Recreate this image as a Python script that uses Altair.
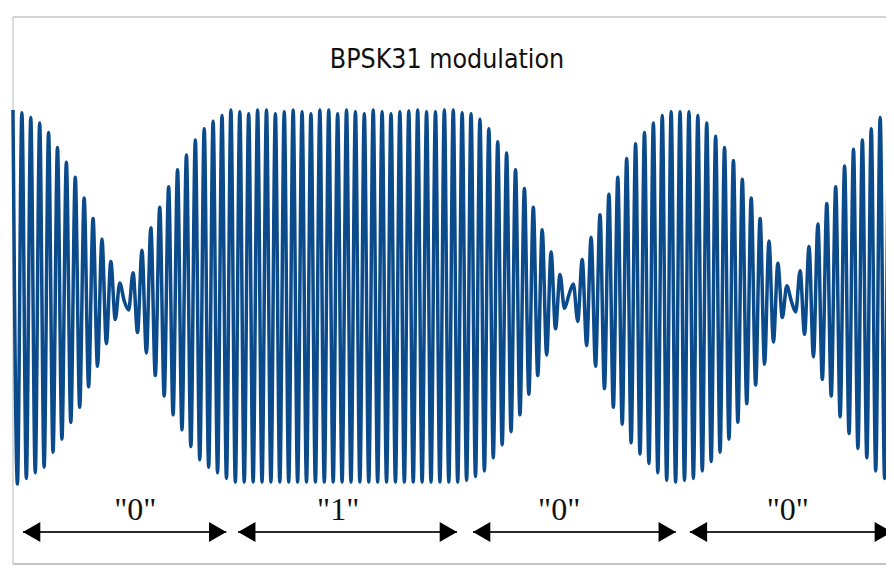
import altair as alt
import pandas as pd

TITLE = "BPSK31 modulation"

# time between successive carrier extrema (25 carrier cycles per 32 ms symbol)
HALF_CYCLE_MS = 0.64

# carrier extremum amplitudes (fraction of full amplitude),
# one list per stretch between phase reversals
AMP_SEG_A = [1.00, 1.00, 0.985, 0.97, 0.96, 0.94, 0.93, 0.91, 0.88, 0.83, 0.80, 0.76, 0.72,
             0.67, 0.64, 0.59, 0.53, 0.48, 0.42, 0.37, 0.31, 0.25, 0.19, 0.12, 0.075, 0.02]
AMP_SEG_B = [0.07, 0.13, 0.19, 0.25, 0.30, 0.37, 0.42, 0.48, 0.53, 0.59, 0.63, 0.68, 0.71,
             0.76, 0.80, 0.84, 0.87, 0.90, 0.91, 0.94, 0.94, 0.97, 0.97, 1.00,
             0.99, 0.99, 0.99, 0.98, 0.99, 1.00, 0.99, 1.00, 0.99, 0.98, 0.99, 0.99, 0.99,
             1.00, 0.99, 0.99, 0.99, 0.98, 0.99, 1.00, 0.99, 1.00, 0.99, 0.98, 0.99, 1.00,
             0.99, 0.99, 0.99, 0.98, 0.99, 1.00, 0.99, 0.99, 0.99, 0.98, 0.99, 0.99, 0.99,
             0.995, 0.99, 1.00, 0.99, 0.99, 0.99, 0.99, 0.99, 1.00, 0.99, 1.00, 0.99,
             0.985, 0.98, 0.98, 0.96, 0.95, 0.93, 0.90, 0.86, 0.83, 0.79, 0.77, 0.72, 0.68,
             0.63, 0.58, 0.52, 0.48, 0.42, 0.36, 0.31, 0.24, 0.17, 0.12, 0.06, 0.01]
AMP_SEG_C = [0.07, 0.13, 0.20, 0.26, 0.32, 0.37, 0.44, 0.49, 0.55, 0.59, 0.64, 0.68, 0.74,
             0.78, 0.82, 0.84, 0.88, 0.89, 0.93, 0.94, 0.97, 0.98, 0.99, 0.99, 0.99, 0.98,
             0.99, 0.97, 0.97, 0.93, 0.93, 0.88, 0.86, 0.83, 0.80, 0.76, 0.73, 0.67, 0.63,
             0.57, 0.53, 0.47, 0.42, 0.36, 0.30, 0.24, 0.18, 0.11, 0.06, 0.02]
AMP_SEG_D = [0.08, 0.14, 0.20, 0.27, 0.32, 0.39, 0.44, 0.50, 0.53, 0.59, 0.64, 0.70, 0.73,
             0.79, 0.81, 0.84, 0.86, 0.90, 0.93, 0.96, 0.97, 0.98, 0.99]
SEGMENT_PHASE = [1, -1, 1, -1]

BIT_LABELS = ['"0"', '"1"', '"0"', '"0"']
BIT_LABEL_MS = [17.6, 46.8, 78.6, 111.5]
ARROW_START_MS = [1.44, 32.4, 66.2, 97.4]
ARROW_END_MS = [30.7, 63.9, 95.4, 126.5]

# ---- build tables ----
rows = []
j = 0
for seg, phase in zip([AMP_SEG_A, AMP_SEG_B, AMP_SEG_C, AMP_SEG_D], SEGMENT_PHASE):
    for a in seg:
        sign = 1 if j % 2 == 0 else -1
        rows.append({"t": j * HALF_CYCLE_MS, "v": a * sign * phase})
        j += 1
wave_df = pd.DataFrame(rows)

arrow_df = pd.DataFrame({"start": ARROW_START_MS, "end": ARROW_END_MS})
label_df = pd.DataFrame({"label": BIT_LABELS, "t": BIT_LABEL_MS})
title_df = pd.DataFrame({"title": [TITLE]})
one = pd.DataFrame({"k": [0]})

W, H = 878, 557
xs = alt.Scale(domain=[-0.719, 125.64], nice=False, zero=False)
ys = alt.Scale(domain=[-1.4332, 1.5455], nice=False, zero=False)

ARROW_Y = 524
FRAME = "#c4c4c4"

frame_left = alt.Chart(one).mark_rule(color=FRAME, strokeWidth=1.2).encode(
    x=alt.value(5), y=alt.value(9), y2=alt.value(H - 1))
frame_top = alt.Chart(one).mark_rule(color=FRAME, strokeWidth=1.5).encode(
    x=alt.value(5), x2=alt.value(W), y=alt.value(9))
frame_bottom = alt.Chart(one).mark_rule(color=FRAME, strokeWidth=2).encode(
    x=alt.value(5), x2=alt.value(W), y=alt.value(H - 1))

wave = alt.Chart(wave_df).mark_line(
    interpolate="monotone", color="#0b4b8c", strokeWidth=3.5, clip=True
).encode(
    x=alt.X("t:Q", scale=xs, axis=None),
    y=alt.Y("v:Q", scale=ys, axis=None),
)

shafts = alt.Chart(arrow_df).mark_rule(color="#2a2a2a", strokeWidth=2, clip=True).encode(
    x=alt.X("start:Q", scale=xs, axis=None),
    x2="end:Q",
    y=alt.value(ARROW_Y),
)
heads_r = alt.Chart(arrow_df).mark_point(
    shape="triangle-right", filled=True, size=400, color="black", opacity=1,
    xOffset=-8.66, clip=True
).encode(x=alt.X("end:Q", scale=xs, axis=None), y=alt.value(ARROW_Y))
heads_l = alt.Chart(arrow_df).mark_point(
    shape="triangle-left", filled=True, size=400, color="black", opacity=1,
    xOffset=8.66, clip=True
).encode(x=alt.X("start:Q", scale=xs, axis=None), y=alt.value(ARROW_Y))

labels = alt.Chart(label_df).mark_text(
    font="Liberation Serif", fontSize=32, baseline="alphabetic", align="center", color="#111111"
).encode(x=alt.X("t:Q", scale=xs, axis=None), y=alt.value(512), text="label:N")

title = alt.Chart(title_df).mark_text(
    font="Liberation Sans Narrow, Arial Narrow, DejaVu Sans Condensed, sans-serif",
    fontSize=26.5, baseline="alphabetic", align="center", color="#111111"
).encode(x=alt.value(439), y=alt.value(60), text="title:N")

chart = alt.layer(
    frame_left, frame_top, frame_bottom, wave, shafts, heads_r, heads_l, labels, title
).properties(
    width=W, height=H, padding=0, autosize=alt.AutoSizeParams(type="none"),
    background="white"
).configure_view(stroke=None)

chart.save("out.html", embed_options={"renderer": "svg", "actions": False})
